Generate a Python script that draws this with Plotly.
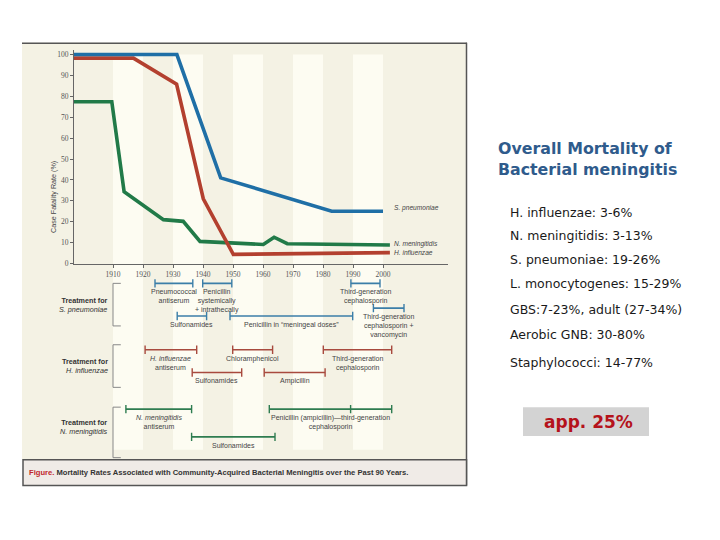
import plotly.graph_objects as go

# page body has an 8px margin; the figure fills the rest of the 720x540 window
OFF = 8
W, H = 720 - 2 * OFF, 540 - 2 * OFF

# ---------------- data ----------------
sp_years = [1897, 1931.3, 1945.9, 1982.9, 2000]
sp_rate = [100, 100, 41, 25, 25]
hi_years = [1897, 1916.8, 1931.2, 1940.1, 1950.1, 2002.3]
hi_rate = [98.3, 98.3, 85.8, 31, 4.4, 5.2]
nm_years = [1897, 1909.6, 1913.7, 1926.8, 1933.4, 1939, 1960.1, 1963.7, 1968.1, 2002.3]
nm_rate = [77.4, 77.4, 34.4, 21, 20.2, 10.6, 9.1, 12.6, 9.5, 8.9]

decade_ticks = [1910, 1920, 1930, 1940, 1950, 1960, 1970, 1980, 1990, 2000]
rate_ticks = [0, 10, 20, 30, 40, 50, 60, 70, 80, 90, 100]

# treatments: label, group, start..end years
tr_labels = ["Pneumococcal<br>antiserum", "Penicillin<br>systemically<br>+ intrathecally",
             "Sulfonamides", "Penicillin in \u201cmeningeal doses\u201d",
             "Third-generation<br>cephalosporin", "Third-generation<br>cephalosporin +<br>vancomycin",
             "<i>H. influenzae</i><br>antiserum", "Chloramphenicol", "Sulfonamides",
             "Third-generation<br>cephalosporin", "Ampicillin",
             "<i>N. meningitidis</i><br>antiserum", "Sulfonamides",
             "Penicillin (ampicillin)\u2014third-generation<br>cephalosporin"]
tr_group = ["sp", "sp", "sp", "sp", "sp", "sp", "hi", "hi", "hi", "hi", "hi", "nm", "nm", "nm"]
tr_years = [[1924, 1936.6], [1939.9, 1949.6], [1931.4, 1941.2], [1949, 1989.9],
            [1989.3, 1999], [1996.8, 2007],
            [1920.7, 1937.9], [1949.9, 1963.2], [1936.4, 1952.9], [1980.1, 2002.9], [1960.4, 1980.7],
            [1914.3, 1936.2], [1936.2, 1964], [1962.1, 1989.2, 2002.9]]

side_title = "Overall Mortality of<br>Bacterial meningitis"
side_items = ["H. influenzae: 3-6%", "N. meningitidis: 3-13%", "S. pneumoniae: 19-26%",
              "L. monocytogenes: 15-29%", "GBS:7-23%, adult (27-34%)",
              "Aerobic GNB: 30-80%", "Staphylococci: 14-77%"]
overall = "app. 25%"

# ---------------- layout helpers (positions / styles) ----------------
def px(x):
    return (x - OFF) / W

def py(y):
    return 1 - (y - OFF) / H

lane = [6, 6, 39, 39, 6, 31, 73, 73, 96, 73, 96, 133, 161, 133]  # rows in treatment panel
colors = {"sp": "#1f6fa6", "hi": "#b3402f", "nm": "#217a48"}
bar_colors = {"sp": "#3b7ea8", "hi": "#a84a3e", "nm": "#2e7c50"}

BEIGE = "#f4f2e4"
LIGHT = "#fdfcf2"
CAPBG = "#f0ebe7"
TXT = "#444444"

fig = go.Figure()

# mortality lines
for xs, ys, c in [(nm_years, nm_rate, colors["nm"]), (hi_years, hi_rate, colors["hi"]),
                  (sp_years, sp_rate, colors["sp"])]:
    fig.add_trace(go.Scatter(x=xs, y=ys, mode="lines", line=dict(color=c, width=3.6),
                             xaxis="x", yaxis="y", hoverinfo="skip", showlegend=False))

# treatment bars
for i, yrs in enumerate(tr_years):
    g = tr_group[i]
    fig.add_trace(go.Scatter(x=yrs, y=[lane[i]] * len(yrs), mode="lines+markers",
                             line=dict(color=bar_colors[g], width=1.6),
                             marker=dict(symbol="line-ns-open", size=6,
                                         line=dict(color=bar_colors[g], width=1.4)),
                             xaxis="x", yaxis="y2", hoverinfo="skip", showlegend=False))

# brackets
for top, bot in [(6, 49), (68, 111), (131, 182)]:
    fig.add_trace(go.Scatter(x=[1912.6, 1910, 1910, 1912.6], y=[top, top, bot, bot], mode="lines",
                             line=dict(color="#888888", width=1), xaxis="x", yaxis="y2",
                             hoverinfo="skip", showlegend=False))

shapes = []
# figure frame background
shapes.append(dict(type="rect", xref="paper", yref="paper", x0=px(22), x1=px(467), y0=py(464), y1=py(43),
                   fillcolor=BEIGE, line=dict(width=0), layer="below"))
shapes.append(dict(type="line", xref="paper", yref="paper", x0=px(22), x1=px(467), y0=py(43.5), y1=py(43.5),
                   line=dict(color="#555555", width=1.5), layer="below"))
shapes.append(dict(type="line", xref="paper", yref="paper", x0=px(466.5), x1=px(466.5), y0=py(43), y1=py(490),
                   line=dict(color="#555555", width=1.5), layer="below"))
# caption box
shapes.append(dict(type="rect", xref="paper", yref="paper", x0=px(23), x1=px(466.5), y0=py(490), y1=py(464),
                   fillcolor=CAPBG, line=dict(color="#555555", width=1.5), layer="below"))
# light decade bands
for d in [1910, 1930, 1950, 1970, 1990]:
    shapes.append(dict(type="rect", xref="x", yref="paper", x0=d, x1=d + 10, y0=py(454), y1=py(55),
                       fillcolor=LIGHT, line=dict(width=0), layer="below"))
# overall box
shapes.append(dict(type="rect", xref="paper", yref="paper", x0=px(523), x1=px(649), y0=py(440), y1=py(411),
                   fillcolor="#d3d3d3", line=dict(width=0), layer="below"))

ann = []
F = "Liberation Sans"
# y axis title
ann.append(dict(text="Case Fatality Rate (%)", xref="paper", yref="paper", x=px(47), y=py(161),
                textangle=-90, showarrow=False, font=dict(family=F, size=7.2, color=TXT)))
# series labels
for name, yv, ys in [("S. pneumoniae", sp_rate[-1], 3), ("N. meningitidis", nm_rate[-1], 1),
                     ("H. influenzae", hi_rate[-1], 0)]:
    ann.append(dict(text="<i>" + name + "</i>", xref="x", yref="y", x=2003, y=yv, yshift=ys,
                    xanchor="left", yanchor="middle", showarrow=False,
                    font=dict(family=F, size=6.6, color=TXT)))
# treatment labels
for i, yrs in enumerate(tr_years):
    ann.append(dict(text=tr_labels[i], xref="x", yref="y2", x=(yrs[0] + yrs[-1]) / 2, y=lane[i] + 3,
                    xanchor="center", yanchor="top", showarrow=False,
                    font=dict(family=F, size=7, color=TXT)))
# treatment group labels
for txt, yv in [("<b>Treatment for</b><br><i>S. pneumoniae</i>", 28),
                ("<b>Treatment for</b><br><i>H. influenzae</i>", 89),
                ("<b>Treatment for</b><br><i>N. meningitidis</i>", 151)]:
    ann.append(dict(text=txt, xref="x", yref="y2", x=1909, y=yv, xanchor="right", yanchor="middle",
                    align="right", showarrow=False, font=dict(family=F, size=7.2, color="#333333")))
# caption
ann.append(dict(text="<span style='color:#c0272d'><b>Figure.</b></span> <b>Mortality Rates Associated with "
                     "Community-Acquired Bacterial Meningitis over the Past 90 Years.</b>",
                xref="paper", yref="paper", x=px(27), y=py(477), xanchor="left", yanchor="middle",
                showarrow=False, font=dict(family=F, size=7.6, color="#333333")))
# right side text
ann.append(dict(text="<b>" + side_title + "</b>", xref="paper", yref="paper", x=px(496), y=py(160.5),
                xanchor="left", yanchor="middle", align="left", showarrow=False,
                font=dict(family="DejaVu Sans", size=15.8, color="#2f5b8c")))
for k, item in enumerate(side_items):
    yy = [214, 238, 262, 286, 312, 338, 366][k]
    ann.append(dict(text=item, xref="paper", yref="paper", x=px(508), y=py(yy), xanchor="left",
                    yanchor="middle", showarrow=False, font=dict(family="DejaVu Sans", size=12.5, color="#1a1a1a")))
ann.append(dict(text="<b>" + overall + "</b>", xref="paper", yref="paper", x=px(588), y=py(425.5),
                xanchor="center", yanchor="middle", showarrow=False,
                font=dict(family="DejaVu Sans", size=17, color="#b5121b")))

fig.update_layout(
    width=W, height=H, autosize=False,
    margin=dict(l=0, r=0, t=0, b=0),
    paper_bgcolor="white", plot_bgcolor="rgba(0,0,0,0)",
    showlegend=False,
    xaxis=dict(domain=[px(74), px(448)], range=[1897, 1897 + 374 / 3], anchor="y",
               tickvals=decade_ticks, ticks="outside", ticklen=3, tickcolor="#666666",
               showline=True, linecolor="#666666", linewidth=1, showgrid=False, zeroline=False,
               tickfont=dict(family="Liberation Serif", size=7.5, color="#555555")),
    yaxis=dict(domain=[py(266), py(50.8)], range=[0, 102], anchor="x",
               tickvals=rate_ticks, ticks="outside", ticklen=3, tickcolor="#666666",
               showline=True, linecolor="#666666", linewidth=1, showgrid=False, zeroline=False,
               tickfont=dict(family="Liberation Serif", size=7.5, color="#555555")),
    yaxis2=dict(domain=[py(464), py(280)], range=[184, 0], anchor="x", visible=False,
                showgrid=False, zeroline=False),
    shapes=shapes, annotations=ann,
)

fig.write_html("out.html")
